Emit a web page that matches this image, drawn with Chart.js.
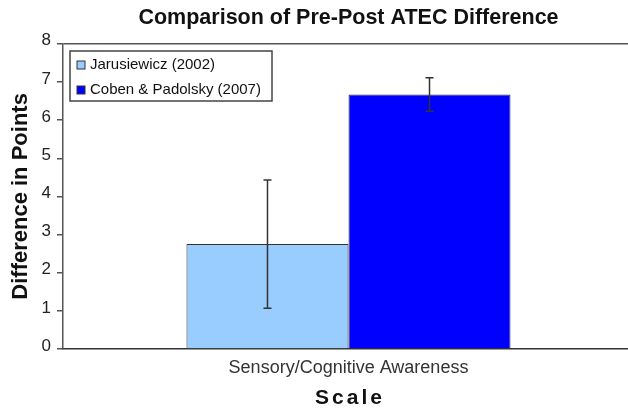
<!DOCTYPE html>
<html>
<head>
<meta charset="utf-8">
<script src="https://cdn.jsdelivr.net/npm/chart.js@4.4.1/dist/chart.umd.min.js"></script>
<style>
  html, body { margin: 0; padding: 0; background: #fff; overflow: hidden; }
  #wrap { width: 628px; height: 410px; overflow: hidden; }
</style>
</head>
<body>
<div id="wrap"><canvas id="myChart" width="634" height="410"></canvas></div>
<script>
// datos
const categorias = ['Sensory/Cognitive Awareness'];
const nombres = ['Jarusiewicz (2002)', 'Coben & Padolsky (2007)'];
const jarusiewicz = [2.75];
const jarusiewiczErr = [1.68];
const coben = [6.67];
const cobenErr = [0.44];
const yMin = 0;
const yMax = 8;
const yStep = 1;
const tituloX = 'Scale';

const color1 = '#99CCFF';
const color2 = '#0000FF';
const fuente = "'Liberation Sans', Arial, sans-serif";

// barras de error
const errorBars = {
  id: 'errorBars',
  afterDatasetsDraw(chart) {
    const ctx = chart.ctx;
    const y = chart.scales.y;
    chart.data.datasets.forEach((ds, i) => {
      const meta = chart.getDatasetMeta(i);
      meta.data.forEach((bar, j) => {
        const v = ds.data[j];
        const e = ds.errores[j];
        const top = y.getPixelForValue(v + e);
        const bot = y.getPixelForValue(v - e);
        ctx.save();
        ctx.strokeStyle = '#333';
        ctx.lineWidth = 1.5;
        ctx.beginPath();
        ctx.moveTo(bar.x, top);
        ctx.lineTo(bar.x, bot);
        ctx.moveTo(bar.x - 4, top);
        ctx.lineTo(bar.x + 4, top);
        ctx.moveTo(bar.x - 4, bot);
        ctx.lineTo(bar.x + 4, bot);
        ctx.stroke();
        ctx.restore();
      });
    });
  }
};

// leyenda dentro del grafico y titulo del eje x (con espaciado)
const leyenda = {
  id: 'leyenda',
  afterDraw(chart) {
    const ctx = chart.ctx;
    const x0 = 70, y0 = 51, w = 202, h = 50;
    ctx.save();
    ctx.fillStyle = '#fff';
    ctx.fillRect(x0, y0, w, h);
    ctx.strokeStyle = '#444';
    ctx.lineWidth = 1.5;
    ctx.strokeRect(x0, y0, w, h);
    ctx.font = '15px ' + fuente;
    ctx.textBaseline = 'middle';
    chart.data.datasets.forEach((ds, i) => {
      const cy = y0 + 14 + i * 25;
      ctx.fillStyle = ds.backgroundColor;
      ctx.fillRect(x0 + 7, cy - 4, 8, 8);
      ctx.strokeStyle = '#333';
      ctx.lineWidth = 1;
      ctx.strokeRect(x0 + 7, cy - 4, 8, 8);
      ctx.fillStyle = '#111';
      ctx.fillText(ds.label, x0 + 20, cy);
    });

    // titulo eje x
    const a = chart.chartArea;
    ctx.font = 'bold 21px ' + fuente;
    ctx.letterSpacing = '3px';
    ctx.fillStyle = '#111';
    ctx.textAlign = 'center';
    ctx.textBaseline = 'alphabetic';
    ctx.fillText(tituloX, (a.left + a.right) / 2 + 1.5, 404);
    ctx.restore();
  }
};

const cdx = document.getElementById('myChart');
new Chart(cdx, {
  type: 'bar',
  data: {
    labels: categorias,
    datasets: [
      {
        label: nombres[0],
        data: jarusiewicz,
        errores: jarusiewiczErr,
        backgroundColor: color1,
        borderColor: '#333',
        borderWidth: 1
      },
      {
        label: nombres[1],
        data: coben,
        errores: cobenErr,
        backgroundColor: color2,
        borderColor: '#333',
        borderWidth: 1
      }
    ]
  },
  options: {
    responsive: false,
    animation: false,
    categoryPercentage: 0.5675,
    barPercentage: 1,
    layout: { padding: 0 },
    scales: {
      x: {
        grid: { display: false, drawTicks: false },
        border: { display: true, color: '#333', width: 1.5 },
        ticks: { color: '#333', font: { family: fuente, size: 18 }, padding: 8 },
        title: { display: false },
        afterFit: (s) => { s.height = 61; }
      },
      y: {
        min: yMin,
        max: yMax,
        ticks: { stepSize: yStep, color: '#222', font: { family: fuente, size: 17 }, padding: 6, labelOffset: -3 },
        grid: {
          color: (c) => (c.tick && c.tick.value === yMax ? '#555' : 'rgba(0,0,0,0)'),
          tickColor: '#555',
          tickLength: 6,
          lineWidth: 1.5
        },
        border: { display: true, color: '#555', width: 1.5 },
        title: {
          display: true,
          text: 'Difference in Points',
          color: '#111',
          font: { family: fuente, size: 22, weight: 'bold' },
          padding: { top: 8, bottom: 0 }
        },
        afterFit: (s) => { s.width = 63; }
      }
    },
    plugins: {
      legend: { display: false },
      tooltip: { enabled: false },
      title: {
        display: true,
        fullSize: false,
        text: 'Comparison of Pre-Post ATEC Difference',
        color: '#111',
        font: { family: fuente, size: 21.5, weight: 'bold' },
        padding: { top: 5, bottom: 13 }
      }
    }
  },
  plugins: [errorBars, leyenda]
});
</script>
</body>
</html>
